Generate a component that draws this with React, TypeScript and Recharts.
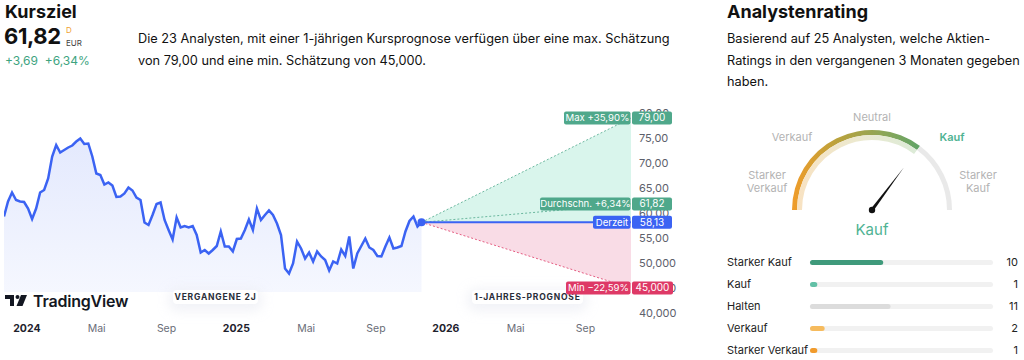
import React from 'react';
import {
  ComposedChart, Area, Line, XAxis, YAxis, ReferenceDot,
  PieChart, Pie, Cell, BarChart, Bar,
} from 'recharts';

const FONT = 'Inter, "Noto Sans", sans-serif';

// weekly closes (EUR), mid-Nov 2023 .. mid-Nov 2025
const weeklyClose = [
  59.3, 62.3, 64.1, 62.6, 62.3, 62.2, 60.9, 58.8, 60.9, 64.1, 64.6, 66.9, 71.3, 73.6, 72.1,
  72.6, 73.1, 73.5, 74.3, 74.9, 73.8, 73.9, 71.3, 67.9, 67.6, 65.7, 66.1, 65.5, 63.2, 63.3,
  63.9, 65.1, 64.5, 63.1, 62.6, 58.1, 57.6, 59.6, 61.8, 62.1, 58.6, 56.6, 54.7, 59.1, 57.1,
  57.4, 57.1, 57.4, 55.6, 52.1, 52.6, 51.9, 52.6, 53.4, 56.3, 53.3, 53.3, 52.3, 54.8, 54.9,
  56.6, 58.7, 56.6, 60.9, 58.6, 59.6, 60.5, 59.6, 57.9, 55.6, 48.9, 47.9, 49.9, 54.3, 52.9,
  50.9, 52.1, 50.3, 52.3, 51.3, 50.6, 48.5, 50.3, 49.9, 52.7, 51.4, 55.3, 48.9, 51.9, 53.4,
  54.9, 53.1, 52.6, 51.4, 51.3, 53.3, 55.1, 52.9, 53.1, 53.4, 56.3, 58.4, 59.3, 57.3, 58.13,
];
const HISTORY_START = -1.31; // months relative to Jan 2024
const WEEK = 7 / 30.44;

const currentPrice = 58.13;
const targetMax = 79.0;
const targetAvg = 61.82;
const targetMin = 45.0;

const xTicks = [0, 4, 8, 12, 16, 20, 24, 28, 32];
const xTickLabels = ['2024', 'Mai', 'Sep', '2025', 'Mai', 'Sep', '2026', 'Mai', 'Sep'];
const yTicks = [40, 45, 50, 55, 60, 65, 70, 75, 80];
const yTickLabels = ['40,000', '45,000', '50,000', '55,00', '60,00', '65,00', '70,00', '75,00', '80,00'];

const ratingNames = ['Starker Kauf', 'Kauf', 'Halten', 'Verkauf', 'Starker Verkauf'];
const ratingCounts = [10, 1, 11, 2, 1];
const ratingTotal = 25;
const ratingColors = ['#3f9a7b', '#62c0a6', '#dcdcdc', '#f6bb5e', '#f19b2c'];
const gaugeScore = 70.5; // needle position in % of the dial

const history = weeklyClose.map((p, i) => ({ m: HISTORY_START + i * WEEK, price: p }));
const lastM = history[history.length - 1].m;
const endM = lastM + 12;
const forecast = [
  { m: lastM, up: [currentPrice, currentPrice], down: [currentPrice, currentPrice], max: currentPrice, avg: currentPrice, min: currentPrice, now: currentPrice },
  { m: endM, up: [currentPrice, targetMax], down: [targetMin, currentPrice], max: targetMax, avg: targetAvg, min: targetMin, now: currentPrice },
];

const ratingData = ratingNames.map((name, i) => ({ name, count: ratingCounts[i], idx: i }));

const GREEN = '#4fa88b';
const BLUE = '#3b63f3';
const RED = '#de3966';

const CHART_W = 690;
const CHART_H = 345;
const CHART_MARGIN = { top: 113, right: 0, left: 4, bottom: 0 };

function Tag({ cx, cy, label, value, color, lw, vw }: any) {
  return (
    <g fontFamily={FONT} fontSize={9.6}>
      <rect x={cx - lw} y={cy - 6.5} width={lw - 0.5} height={13} rx={2} fill={color} />
      <text x={cx - lw / 2} y={cy + 3.4} textAnchor="middle" fill="#fff">{label}</text>
      <rect x={cx + 1} y={cy - 6.5} width={vw} height={13} rx={2} fill={color} />
      <text x={cx + 1 + vw / 2} y={cy + 3.4} textAnchor="middle" fill="#fff" fontSize={10}>{value}</text>
    </g>
  );
}

function XTick({ x, y, payload }: any) {
  const i = xTicks.indexOf(payload.value);
  const isYear = i % 3 === 0;
  return (
    <text x={x} y={y + 17} textAnchor="middle" fontFamily={FONT} fontSize={10.5}
      fontWeight={isYear ? 700 : 400} fill={isYear ? '#1e222d' : '#6a6d78'}>
      {xTickLabels[i]}
    </text>
  );
}

function YTick({ x, y, payload }: any) {
  const i = yTicks.indexOf(payload.value);
  return (
    <text x={x} y={y + 4} textAnchor="start" fontFamily={FONT} fontSize={11} fill="#5d606b">
      {yTickLabels[i]}
    </text>
  );
}

function axes(showTicks: boolean) {
  return [
    <XAxis key="x" type="number" dataKey="m" domain={[HISTORY_START, endM]} ticks={xTicks}
      axisLine={false} tickLine={false} tickSize={0} height={32} tick={showTicks ? <XTick /> : false} allowDataOverflow />,
    <YAxis key="y" type="number" orientation="right" domain={[40, 80]} ticks={yTicks} width={59}
      axisLine={false} tickLine={false} tickSize={0} tickMargin={8} tick={showTicks ? <YTick /> : false} allowDataOverflow />,
  ];
}

function PriceChart() {
  return (
    <ComposedChart width={CHART_W} height={CHART_H} margin={CHART_MARGIN}>
      <defs>
        <linearGradient id="histFill" x1="0" y1="0" x2="0" y2="1">
          <stop offset="0%" stopColor="#3b63f3" stopOpacity={0.14} />
          <stop offset="100%" stopColor="#3b63f3" stopOpacity={0.05} />
        </linearGradient>
      </defs>
      {axes(true)}
      <Area data={forecast} dataKey="up" type="linear" fill="#d9f5ec" fillOpacity={1} stroke="none" isAnimationActive={false} />
      <Area data={forecast} dataKey="down" type="linear" fill="#f9dce6" fillOpacity={1} stroke="none" isAnimationActive={false} />
      <Line data={forecast} dataKey="max" type="linear" stroke={GREEN} strokeWidth={1} strokeOpacity={0.8} strokeDasharray="2 2" dot={false} isAnimationActive={false} />
      <Line data={forecast} dataKey="avg" type="linear" stroke={GREEN} strokeWidth={1} strokeOpacity={0.8} strokeDasharray="2 2" dot={false} isAnimationActive={false} />
      <Line data={forecast} dataKey="min" type="linear" stroke={RED} strokeWidth={1} strokeOpacity={0.8} strokeDasharray="2 2" dot={false} isAnimationActive={false} />
      <Area data={history} dataKey="price" type="linear" baseValue={44.2} fill="url(#histFill)" fillOpacity={1}
        stroke={BLUE} strokeWidth={2.5} dot={false} isAnimationActive={false} />
      <Line data={forecast} dataKey="now" type="linear" stroke={BLUE} strokeWidth={2} dot={false} isAnimationActive={false} />
      <ReferenceDot x={lastM} y={currentPrice} r={4} fill={BLUE} stroke="none" />
    </ComposedChart>
  );
}

// same scales, drawn on top so the price tags cover the axis labels
function TagLayer() {
  return (
    <ComposedChart width={CHART_W} height={CHART_H} margin={CHART_MARGIN}>
      {axes(false)}
      <ReferenceDot x={endM} y={targetMax} ifOverflow="visible"
        shape={(p: any) => <Tag cx={p.cx} cy={p.cy} label="Max +35,90%" value="79,00" color={GREEN} lw={67} vw={40} />} />
      <ReferenceDot x={endM} y={targetAvg} ifOverflow="visible"
        shape={(p: any) => <Tag cx={p.cx} cy={p.cy} label="Durchschn. +6,34%" value="61,82" color={GREEN} lw={91} vw={40} />} />
      <ReferenceDot x={endM} y={currentPrice} ifOverflow="visible"
        shape={(p: any) => <Tag cx={p.cx} cy={p.cy} label="Derzeit" value="58,13" color={BLUE} lw={38} vw={40} />} />
      <ReferenceDot x={endM} y={targetMin} ifOverflow="visible"
        shape={(p: any) => <Tag cx={p.cx} cy={p.cy} label="Min −22,59%" value="45,000" color={RED} lw={65} vw={41} />} />
    </ComposedChart>
  );
}

function Gauge() {
  const cx = 100;
  const cy = 110;
  const angle = (180 - (gaugeScore / 100) * 180) * Math.PI / 180;
  const len = 53;
  const tipX = cx + len * Math.cos(angle);
  const tipY = cy - len * Math.sin(angle);
  const nx = Math.sin(angle) * 1.6;
  const ny = Math.cos(angle) * 1.6;
  const dial = [{ v: gaugeScore }, { v: 100 - gaugeScore }];
  return (
    <div style={{ position: 'absolute', left: 772, top: 100, width: 200, height: 120 }}>
      <PieChart width={200} height={120} margin={{ top: 0, right: 0, left: 0, bottom: 0 }}>
        <defs>
          <linearGradient id="dialStrong" x1="0" y1="0" x2="1" y2="0">
            <stop offset="0%" stopColor="#f09c2a" />
            <stop offset="35%" stopColor="#bba23c" />
            <stop offset="70%" stopColor="#8ea656" />
            <stop offset="100%" stopColor="#60a468" />
          </linearGradient>
          <linearGradient id="dialSoft" x1="0" y1="0" x2="1" y2="0">
            <stop offset="0%" stopColor="#f8e2c2" />
            <stop offset="50%" stopColor="#ece9cf" />
            <stop offset="100%" stopColor="#dcebd8" />
          </linearGradient>
        </defs>
        <Pie data={dial} dataKey="v" cx={cx} cy={cy} startAngle={180} endAngle={0}
          innerRadius={75} outerRadius={80} stroke="none" isAnimationActive={false}>
          <Cell fill="url(#dialStrong)" />
          <Cell fill="#e9e9e9" />
        </Pie>
        <Pie data={dial} dataKey="v" cx={cx} cy={cy} startAngle={180} endAngle={0}
          innerRadius={70} outerRadius={75} stroke="none" isAnimationActive={false}>
          <Cell fill="url(#dialSoft)" />
          <Cell fill="transparent" />
        </Pie>
      </PieChart>
      <svg width={200} height={120} style={{ position: 'absolute', left: 0, top: 0 }}>
        <polygon points={`${cx - nx},${cy - ny} ${cx + nx},${cy + ny} ${tipX},${tipY}`} fill="#111" />
        <circle cx={cx} cy={cy} r={3.2} fill="#111" />
      </svg>
    </div>
  );
}

function RatingLeftTick({ y, payload }: any) {
  return (
    <text x={7} y={y + 4} textAnchor="start" fontFamily={FONT} fontSize={11} fill="#222">{payload.value}</text>
  );
}

function RatingRightTick({ y, payload }: any) {
  return (
    <text x={298} y={y + 4} textAnchor="end" fontFamily={FONT} fontSize={11} fill="#222">
      {ratingCounts[payload.value]}
    </text>
  );
}

function RatingBars() {
  return (
    <div style={{ position: 'absolute', left: 720, top: 251 }}>
      <BarChart layout="vertical" width={300} height={110} data={ratingData}
        margin={{ top: 0, right: 0, left: 0, bottom: 0 }} barSize={5}>
        <XAxis type="number" domain={[0, ratingTotal]} hide />
        <YAxis yAxisId="l" type="category" dataKey="name" width={90} interval={0}
          axisLine={false} tickLine={false} tick={<RatingLeftTick />} />
        <YAxis yAxisId="r" orientation="right" type="category" dataKey="idx" width={27} interval={0}
          axisLine={false} tickLine={false} tick={<RatingRightTick />} />
        <Bar yAxisId="l" dataKey="count" radius={3} background={{ fill: '#f1f1f1', radius: 3 } as any} isAnimationActive={false}>
          {ratingData.map((d, i) => <Cell key={d.name} fill={ratingColors[i]} />)}
        </Bar>
      </BarChart>
    </div>
  );
}

const pill: React.CSSProperties = {
  position: 'absolute', top: 290, height: 14, background: '#fff', borderRadius: 4,
  fontSize: 8.5, fontWeight: 700, letterSpacing: 0.8, color: '#2a2e39', lineHeight: '14px',
  textAlign: 'center', boxShadow: '0 3px 12px 4px rgba(235,236,244,0.7)',
};

const gaugeLabel: React.CSSProperties = {
  position: 'absolute', fontSize: 11, color: '#b3b3b3', lineHeight: '13px', textAlign: 'center',
  transform: 'translate(-50%, -50%)', whiteSpace: 'nowrap',
};

export default function App() {
  return (
    <div style={{ position: 'absolute', left: 0, top: 0, width: 1024, height: 360, background: '#fff', fontFamily: FONT, overflow: 'hidden' }}>
      <div style={{ position: 'absolute', left: 0, top: 0 }}>
        <PriceChart />
      </div>

      {/* header left */}
      <div style={{ position: 'absolute', left: 5, top: 3, fontSize: 18, fontWeight: 700, lineHeight: 1, color: '#111' }}>Kursziel</div>
      <div style={{ position: 'absolute', left: 4, top: 25, fontSize: 22, fontWeight: 700, lineHeight: 1, color: '#111', letterSpacing: -0.4 }}>61,82</div>
      <div style={{ position: 'absolute', left: 66, top: 26, fontSize: 8, lineHeight: 1, color: '#f0a030' }}>D</div>
      <div style={{ position: 'absolute', left: 66, top: 39, fontSize: 8, lineHeight: 1, color: '#444' }}>EUR</div>
      <div style={{ position: 'absolute', left: 5, top: 55, fontSize: 12, lineHeight: 1, color: '#3ea47f', whiteSpace: 'pre' }}>+3,69  +6,34%</div>
      <div style={{ position: 'absolute', left: 138, top: 28, fontSize: 12.75, lineHeight: '21.5px', color: '#111', whiteSpace: 'nowrap' }}>
        Die 23 Analysten, mit einer 1-jährigen Kursprognose verfügen über eine max. Schätzung<br />
        von 79,00 und eine min. Schätzung von 45,000.
      </div>

      {/* pills + logo */}
      <div style={{ ...pill, left: 173, width: 85 }}>VERGANGENE 2J</div>
      <div style={{ ...pill, left: 472, width: 111 }}>1-JAHRES-PROGNOSE</div>
      <svg width={26} height={14} style={{ position: 'absolute', left: 5, top: 294 }}>
        <rect x={0} y={1} width={9} height={4} fill="#131722" />
        <rect x={5} y={1} width={4} height={11} fill="#131722" />
        <circle cx={12.5} cy={3} r={2} fill="#131722" />
        <polygon points="16,1 22,1 17.5,12 11.5,12" fill="#131722" />
      </svg>
      <div style={{ position: 'absolute', left: 33, top: 293, fontSize: 16, fontWeight: 600, lineHeight: 1, color: '#131722', letterSpacing: -0.2 }}>TradingView</div>

      <div style={{ position: 'absolute', left: 0, top: 0 }}>
        <TagLayer />
      </div>

      {/* right panel */}
      <div style={{ position: 'absolute', left: 727, top: 3, fontSize: 18, fontWeight: 700, lineHeight: 1, color: '#111' }}>Analystenrating</div>
      <div style={{ position: 'absolute', left: 727, top: 28, fontSize: 12.75, lineHeight: '21.5px', color: '#111', whiteSpace: 'nowrap' }}>
        Basierend auf 25 Analysten, welche Aktien-<br />
        Ratings in den vergangenen 3 Monaten gegeben<br />
        haben.
      </div>

      <Gauge />
      <div style={{ ...gaugeLabel, left: 872, top: 117 }}>Neutral</div>
      <div style={{ ...gaugeLabel, left: 792, top: 137 }}>Verkauf</div>
      <div style={{ ...gaugeLabel, left: 952, top: 137, color: '#4fb393', fontWeight: 600 }}>Kauf</div>
      <div style={{ ...gaugeLabel, left: 767, top: 182 }}>Starker<br />Verkauf</div>
      <div style={{ ...gaugeLabel, left: 978, top: 182 }}>Starker<br />Kauf</div>
      <div style={{ ...gaugeLabel, left: 872, top: 230, fontSize: 15, lineHeight: '18px', color: '#4fb393' }}>Kauf</div>

      <RatingBars />
    </div>
  );
}
